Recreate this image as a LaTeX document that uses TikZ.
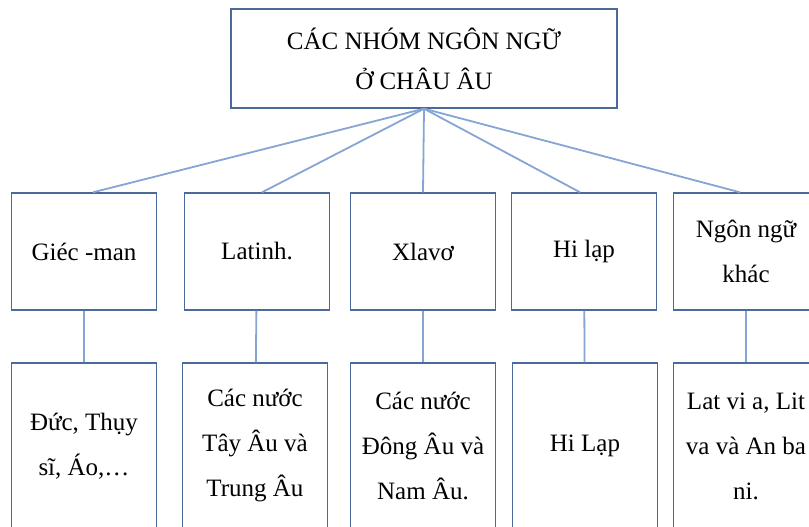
\documentclass[tikz,border=0pt]{standalone}
\usepackage{fontspec}
\setmainfont{Liberation Serif}
\definecolor{boxblue}{HTML}{4A6A9C}
\definecolor{lineblue}{HTML}{86A4D4}

\begin{document}
\begin{tikzpicture}[x=1pt, y=1pt, node distance=193pt,
    nhombox/.style={rectangle, draw=boxblue, line width=1.4pt, align=center, font=\fontsize{25}{45}\selectfont},
    rowone/.style={nhombox, minimum width=145pt, minimum height=117pt},
    rowtwo/.style={nhombox, minimum width=145pt, minimum height=166pt},
    nhanh/.style={draw=lineblue, line width=1.8pt}]

    \useasboundingbox (0,0) rectangle (809,527);
    \clip (0,0) rectangle (809,527);

    % Top box
    \node (nhom) [nhombox, minimum width=386pt, minimum height=99pt, font=\fontsize{25}{40}\selectfont] at (424,468.5) {CÁC NHÓM NGÔN NGỮ\\Ở CHÂU ÂU};

    % Language groups
    \node (giecman) [rowone, below of=nhom, xshift=-340pt] {Giéc -man};
    \node (latinh) [rowone, right of=giecman, xshift=-20pt] {Latinh.};
    \node (xlavo) [rowone, right of=latinh, xshift=-27pt] {Xlavơ};
    \node (hilap) [rowone, right of=xlavo, xshift=-32pt] {Hi lạp};
    \node (khac) [rowone, right of=hilap, xshift=-31pt] {Ngôn ngữ\\khác};

    % Countries
    \node (duc) [rowtwo, below of=giecman, yshift=-1.5pt] {Đức, Thụy\\sĩ, Áo,…};
    \node (tayau) [rowtwo, below of=latinh, yshift=-1.5pt, xshift=-2pt] {Các nước\\Tây Âu và\\Trung Âu};
    \node (dongau) [rowtwo, below of=xlavo, yshift=-1.5pt] {Các nước\\Đông Âu và\\Nam Âu.};
    \node (hilapnuoc) [rowtwo, below of=hilap, yshift=-1.5pt, xshift=1pt] {Hi Lạp};
    \node (latvia) [rowtwo, below of=khac, yshift=-1.5pt] {Lat vi a, Lit\\va và An ba\\ni.};

    % Lines from the top box
    \draw[nhanh] (nhom.south) -- ([xshift=9pt]giecman.north);
    \draw[nhanh] (nhom.south) -- ([xshift=5pt]latinh.north);
    \draw[nhanh] (nhom.south) -- (xlavo.north);
    \draw[nhanh] (nhom.south) -- ([xshift=-4pt]hilap.north);
    \draw[nhanh] (nhom.south) -- ([xshift=-6pt]khac.north);

    % Lines down to the countries
    \draw[nhanh] (giecman) -- (duc);
    \draw[nhanh] (latinh) -- (tayau);
    \draw[nhanh] (xlavo) -- (dongau);
    \draw[nhanh] (hilap) -- (hilapnuoc);
    \draw[nhanh] (khac) -- (latvia);

\end{tikzpicture}
\end{document}
